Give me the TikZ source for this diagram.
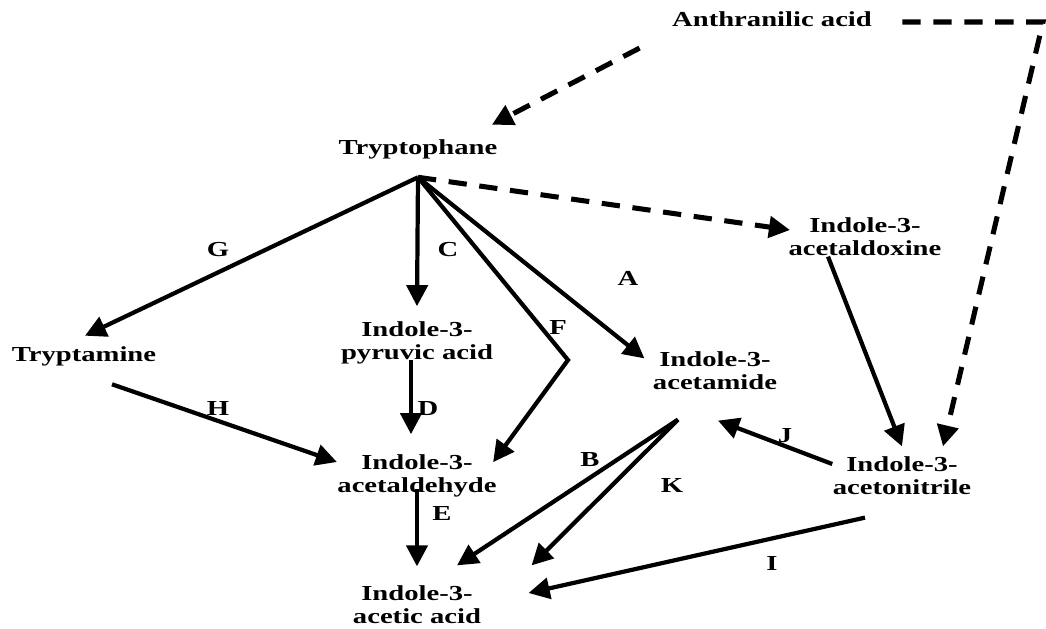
\documentclass[tikz,border=0pt]{standalone}
\usepackage{fontspec}
\setmainfont{Liberation Serif}[FakeStretch=1.34]
\usetikzlibrary{calc}
\usetikzlibrary{arrows.meta}

\begin{document}
\begin{tikzpicture}[x=0.0125cm, y=-0.0125cm,
        compound/.style={inner sep=0pt, align=center, font=\bfseries\fontsize{7.6}{8.2}\selectfont},
        steplabel/.style={inner sep=0pt, font=\bfseries\fontsize{7.6}{8.2}\selectfont},
        solidarrow/.style={line width=1.5pt, -{Triangle[length=7.5pt, width=7.5pt]}},
        dasharrow/.style={line width=1.8pt, dash pattern=on 6.5pt off 4.5pt, -{Triangle[length=7.5pt, width=7.5pt]}}]
        \useasboundingbox (0,0) rectangle (1046,628);
        % 化合物
        \node[compound] (Anthranilic) at (772,19) {Anthranilic acid};
        \node[compound] (Tryptophane) at (418,149) {Tryptophane};
        \node[compound] (Acetaldoxine) at (865,237) {Indole-3-\\acetaldoxine};
        \node[compound] (Tryptamine) at (84,356) {Tryptamine};
        \node[compound] (Pyruvic) at (417,343) {Indole-3-\\pyruvic acid};
        \node[compound] (Acetamide) at (715,371) {Indole-3-\\acetamide};
        \node[compound] (Acetaldehyde) at (417,476) {Indole-3-\\acetaldehyde};
        \node[compound] (Acetonitrile) at (902,476) {Indole-3-\\acetonitrile};
        \node[compound] (AceticAcid) at (417,605) {Indole-3-\\acetic acid};
        \coordinate (Hub) at ($(Tryptophane.south) + (0,18)$);
        \coordinate (Corner) at (1043,22);
        \coordinate (FBend) at (568,360);
        % 反応の記号
        \node[steplabel] (LabG) at (218,250) {G};
        \node[steplabel] (LabC) at (448,250) {C};
        \node[steplabel] (LabA) at (628,278) {A};
        \node[steplabel] (LabF) at (558,327) {F};
        \node[steplabel] (LabH) at (218,408) {H};
        \node[steplabel] (LabD) at (428,409) {D};
        \node[steplabel] (LabJ) at (785,436) {J};
        \node[steplabel] (LabB) at (590,460) {B};
        \node[steplabel] (LabK) at (672,485) {K};
        \node[steplabel] (LabE) at (442,513) {E};
        \node[steplabel] (LabI) at (772,563) {I};
        % 破線の矢印
        \draw[dasharrow]
            ($(Anthranilic.south west) + (-32,21)$) -- ($(Tryptophane.north east) + (-6,-14)$);
        \draw[dasharrow]
            ($(Anthranilic.east) + (30,3)$) -- (Corner) -- ($(Acetonitrile.north) + (41,-10)$);
        \draw[dasharrow]
            (Hub) -- ($(Acetaldoxine.west) + (2,-7)$);
        % 実線の矢印
        \draw[solidarrow] (Hub) -- ($(Tryptamine.north) + (1,-10)$);
        \draw[solidarrow] (Hub) -- ($(Pyruvic.north) + (0,-15)$);
        \draw[solidarrow] (Hub) -- (FBend) -- ($(Acetaldehyde.north east) + (-4,8)$);
        \draw[solidarrow] (Hub) -- ($(Acetamide.north west) + (-8,7)$);
        \draw[solidarrow]
            ($(Pyruvic.south) + (-6,-5)$) -- ($(Acetaldehyde.north) + (-6,-20)$);
        \draw[solidarrow]
            ($(Tryptamine.south) + (28,18)$) -- ($(Acetaldehyde.west) + (0,-14)$);
        \draw[solidarrow]
            ($(Acetaldehyde.south) + (0,-9)$) -- ($(AceticAcid.north) + (0,-19)$);
        \draw[solidarrow]
            ($(Acetamide.south) + (-37,29)$) -- ($(AceticAcid.north) + (40,-20)$);
        \draw[solidarrow]
            ($(Acetamide.south) + (-37,29)$) -- ($(AceticAcid.north east) + (50,-20)$);
        \draw[solidarrow]
            ($(Acetonitrile.south) + (-37,22)$) -- ($(AceticAcid.east) + (47,-12)$);
        \draw[solidarrow]
            ($(Acetonitrile.west) + (0,-12)$) -- ($(Acetamide.south) + (3,30)$);
        \draw[solidarrow]
            ($(Acetaldoxine.south) + (-37,0)$) -- ($(Acetonitrile.north) + (0,-10)$);
    \end{tikzpicture}
\end{document}
